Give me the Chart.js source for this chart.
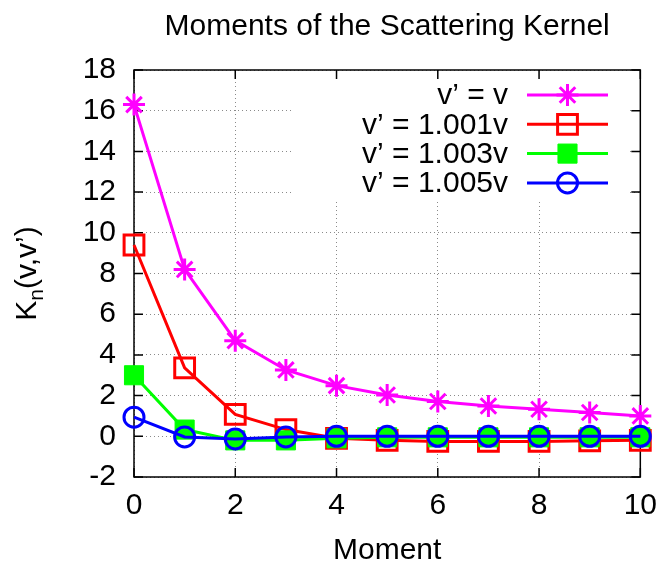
<!DOCTYPE html>
<html><head><meta charset="utf-8">
<script src="https://cdn.jsdelivr.net/npm/chart.js@4"></script>
<style>html,body{margin:0;padding:0;background:#fff;} canvas{display:block;}</style>
</head><body>
<canvas id="c" width="668" height="567"></canvas>
<script>
// ---- data ----
const moments = [0, 1, 2, 3, 4, 5, 6, 7, 8, 9, 10];
const kSame  = [16.3, 8.2, 4.7, 3.26, 2.49, 2.03, 1.71, 1.49, 1.33, 1.17, 1.0];
const k1001  = [9.4, 3.36, 1.08, 0.33, -0.1, -0.2, -0.25, -0.25, -0.25, -0.22, -0.2];
const k1003  = [3.0, 0.33, -0.2, -0.2, -0.1, -0.05, -0.05, -0.05, -0.05, -0.05, -0.05];
const k1005  = [0.94, -0.03, -0.13, -0.03, 0, 0, 0, 0, 0, 0, 0];
const seriesLabels = ['v\u2019 = v', 'v\u2019 = 1.001v', 'v\u2019 = 1.003v', 'v\u2019 = 1.005v'];
const xTickValues = [0, 2, 4, 6, 8, 10];
const yTickValues = [-2, 0, 2, 4, 6, 8, 10, 12, 14, 16, 18];
const chartTitle = 'Moments of the Scattering Kernel';
const xTitle = 'Moment';

// ---- styles ----
const FONT = '"Liberation Sans", Arial, Helvetica, sans-serif';
const FS = 30;
const styles = [
  {color: '#ff00ff', pointStyle: 'star', radius: 11, bw: 3, fill: 'rgba(0,0,0,0)'},
  {color: '#ff0000', pointStyle: 'rect', radius: 14, bw: 3, fill: 'rgba(0,0,0,0)'},
  {color: '#00ff00', pointStyle: 'rect', radius: 13.5, bw: 1, fill: '#00ff00'},
  {color: '#0000ff', pointStyle: 'circle', radius: 10, bw: 3, fill: 'rgba(0,0,0,0)'}
];
const seriesValues = [kSame, k1001, k1003, k1005];

const datasets = seriesValues.map((vals, i) => ({
  label: seriesLabels[i],
  data: vals.map((v, j) => ({x: moments[j], y: v})),
  borderColor: styles[i].color,
  borderWidth: 3,
  pointStyle: styles[i].pointStyle,
  pointRadius: styles[i].radius,
  pointHoverRadius: styles[i].radius,
  pointBorderWidth: styles[i].bw,
  pointBorderColor: styles[i].color,
  pointBackgroundColor: styles[i].fill,
  backgroundColor: styles[i].fill,
  tension: 0,
  fill: false,
  clip: false,
  order: 4 - i
}));

const AREA = {left: 134, right: 644, top: 70, bottom: 477};

const framePlugin = {
  id: 'frame',
  beforeDatasetsDraw(chart) {
    const ctx = chart.ctx, a = chart.chartArea;
    // key box (opaque background behind legend)
    ctx.save();
    ctx.fillStyle = '#fff';
    ctx.fillRect(293, a.top + 1, 334, 130);
    // border
    ctx.strokeStyle = '#000';
    ctx.lineWidth = 1.5;
    ctx.strokeRect(a.left, a.top, a.right - a.left, a.bottom - a.top);
    // inward ticks
    const xs = chart.scales.x, ys = chart.scales.y, L = 9;
    ctx.beginPath();
    xs.ticks.forEach(t => {
      const px = xs.getPixelForValue(t.value);
      ctx.moveTo(px, a.bottom); ctx.lineTo(px, a.bottom - L);
      ctx.moveTo(px, a.top); ctx.lineTo(px, a.top + L);
    });
    ys.ticks.forEach(t => {
      const py = ys.getPixelForValue(t.value);
      ctx.moveTo(a.left, py); ctx.lineTo(a.left + L, py);
      ctx.moveTo(a.right, py); ctx.lineTo(a.right - L, py);
    });
    ctx.stroke();
    ctx.restore();
  },
  afterDraw(chart) {
    const ctx = chart.ctx, a = chart.chartArea;
    ctx.save();
    ctx.fillStyle = '#000';
    // title
    ctx.font = FS + 'px ' + FONT;
    ctx.textAlign = 'center';
    ctx.textBaseline = 'alphabetic';
    ctx.fillText(chartTitle, (a.left + a.right) / 2, 35);
    // x title
    ctx.fillText(xTitle, (a.left + a.right) / 2, 559);
    // y title with subscript
    ctx.save();
    ctx.translate(36, (a.top + a.bottom) / 2);
    ctx.rotate(-Math.PI / 2);
    const big = FS + 'px ' + FONT, small = '21px ' + FONT;
    ctx.font = big; const wK = ctx.measureText('K').width;
    const rest = '(v,v\u2019)';
    const wR = ctx.measureText(rest).width;
    ctx.font = small; const wN = ctx.measureText('n').width;
    const total = wK + wN + wR;
    let x0 = -total / 2;
    ctx.textAlign = 'left';
    ctx.font = big; ctx.fillText('K', x0, 0);
    ctx.font = small; ctx.fillText('n', x0 + wK, 7);
    ctx.font = big; ctx.fillText(rest, x0 + wK + wN, 0);
    ctx.restore();
    // legend
    const rowY0 = 95, rowStep = 29.3;
    for (let i = 0; i < seriesLabels.length; i++) {
      const y = rowY0 + i * rowStep;
      ctx.font = FS + 'px ' + FONT;
      ctx.textAlign = 'right';
      ctx.textBaseline = 'middle';
      ctx.fillStyle = '#000';
      ctx.fillText(seriesLabels[i], 508, y + 1);
      ctx.strokeStyle = styles[i].color;
      ctx.lineWidth = 3;
      ctx.beginPath(); ctx.moveTo(527, y); ctx.lineTo(608, y); ctx.stroke();
      ctx.fillStyle = styles[i].fill;
      ctx.lineWidth = styles[i].bw;
      Chart.helpers.drawPoint(ctx, {pointStyle: styles[i].pointStyle, radius: styles[i].radius, rotation: 0, borderWidth: styles[i].bw}, 567.5, y);
    }
    ctx.restore();
  }
};

new Chart(document.getElementById('c'), {
  type: 'line',
  data: {datasets},
  options: {
    responsive: false,
    animation: false,
    events: [],
    layout: {padding: {left: 0, right: 668 - AREA.right, top: AREA.top, bottom: 0}},
    plugins: {legend: {display: false}, title: {display: false}, tooltip: {enabled: false}},
    scales: {
      x: {
        type: 'linear', min: 0, max: 10,
        afterBuildTicks: s => { s.ticks = xTickValues.map(v => ({value: v})); },
        afterFit: s => { s.height = 567 - AREA.bottom; },
        ticks: {font: {family: FONT, size: FS}, color: '#000', padding: 11, maxRotation: 0, autoSkip: false},
        grid: {color: '#8a8a8a', lineWidth: 1, drawTicks: false},
        border: {display: false, dash: [1, 3]}
      },
      y: {
        type: 'linear', min: -2, max: 18,
        afterBuildTicks: s => { s.ticks = yTickValues.map(v => ({value: v})); },
        afterFit: s => { s.width = AREA.left; },
        ticks: {font: {family: FONT, size: FS}, color: '#000', padding: 18, autoSkip: false},
        grid: {color: '#8a8a8a', lineWidth: 1, drawTicks: false},
        border: {display: false, dash: [1, 3]}
      }
    }
  },
  plugins: [framePlugin]
});
</script>
</body></html>
